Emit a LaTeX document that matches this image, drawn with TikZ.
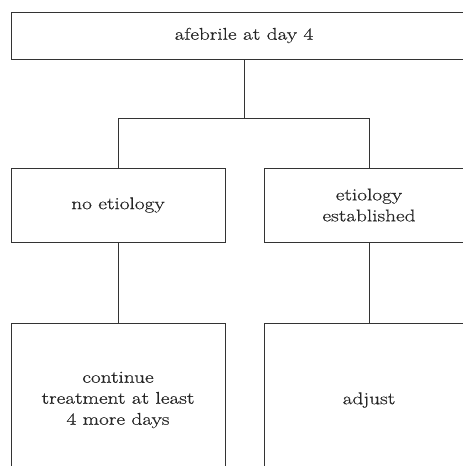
\documentclass[tikz,border=0pt]{standalone}
\usepackage{fontspec}
\setmainfont{Latin Modern Roman}[FakeStretch=1.25,FakeBold=0.6]
\begin{document}
\begin{tikzpicture}[x=1pt,y=-1pt,
  box/.style={draw=black!80, line width=0.9pt, align=center, inner sep=0pt,
    font=\fontsize{17}{21}\selectfont, text=black!85},
  link/.style={draw=black!80, line width=0.9pt}]
\useasboundingbox (0,0) rectangle (463,466);
\clip (0,0) rectangle (463,466);
\node[box, minimum width=466pt, minimum height=47pt] (top) at (244,35.5) {afebrile at day 4};
\node[box, minimum width=214pt, minimum height=74pt] (midL) at (118,205) {no etiology};
\node[box, minimum width=210pt, minimum height=74pt] (midR) at (369,205) {etiology\\established};
\node[box, minimum width=214pt, minimum height=154pt] (botL) at (118,400) {continue\\treatment at least\\4 more days};
\node[box, minimum width=210pt, minimum height=154pt] (botR) at (369,400) {adjust};
\coordinate (j) at (244,118);
\draw[link] (top.south) -- (j);
\draw[link] (j) -| (midL.north);
\draw[link] (j) -| (midR.north);
\draw[link] (midL.south) -- (botL.north);
\draw[link] (midR.south) -- (botR.north);
\end{tikzpicture}
\end{document}
